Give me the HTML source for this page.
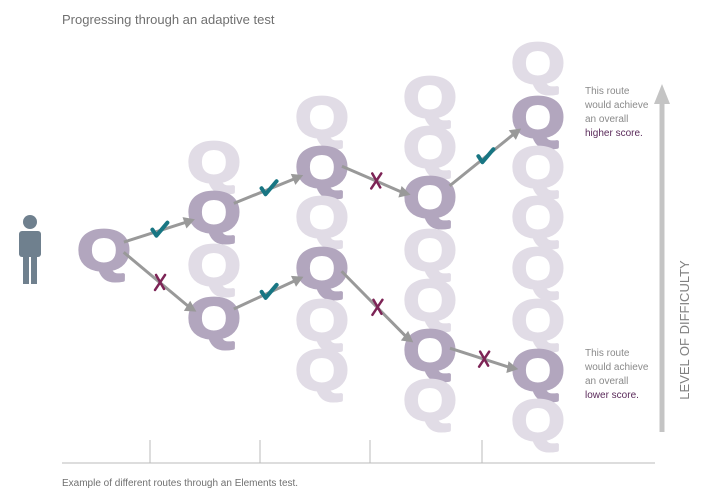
<!DOCTYPE html>
<html><head><meta charset="utf-8"><style>
body{margin:0;background:#fff;width:701px;height:499px;overflow:hidden;font-family:"Liberation Sans",sans-serif}
svg{display:block}
</style></head><body>
<svg id="c" width="701" height="499" viewBox="0 0 701 499">
<text x="62" y="24" font-size="13" fill="#707070">Progressing through an adaptive test</text>
<g id="qs"></g>
<g id="routes"></g>
<g fill="#6f808e">
<circle cx="30" cy="222" r="7"/>
<rect x="19" y="231" width="22" height="26" rx="3"/>
<rect x="23" y="250" width="6" height="34"/>
<rect x="31" y="250" width="6" height="34"/>
</g>
<line x1="62" y1="463" x2="655" y2="463" stroke="#bbb" stroke-width="1"/>
<g id="ticks" stroke="#bbb" stroke-width="1"></g>
<text x="62" y="486" font-size="10" fill="#707070">Example of different routes through an Elements test.</text>
<g>
<line x1="662" y1="432" x2="662" y2="100" stroke="#c4c4c4" stroke-width="5"/>
<polygon points="654,104 670,104 662,84" fill="#c4c4c4"/>
</g>
<text transform="translate(689,330) rotate(-90)" text-anchor="middle" font-size="13" fill="#808080">LEVEL OF DIFFICULTY</text>
<g font-size="10" fill="#8a8a8a">
<text x="585" y="94">This route</text><text x="585" y="108">would achieve</text><text x="585" y="122">an overall</text><text x="585" y="136" fill="#5a2a5a">higher score.</text>
</g>
<g font-size="10" fill="#8a8a8a">
<text x="585" y="356">This route</text><text x="585" y="370">would achieve</text><text x="585" y="384">an overall</text><text x="585" y="398" fill="#5a2a5a">lower score.</text>
</g>
</svg>
<script>
const colX=[104,214,322,430,538];
const colYs=[[250],[162,212,265,318],[117,167,217,268,320,370],[97,147,197,250,300,350,400],[63,117,167,217,268,320,370,420]];
const active=[[250],[212,318],[167,268],[197,350],[117,370]];
// route steps: [fromCol, fromY, toCol, toY, result]
const steps=[[0,250,1,212,"ok"],[0,250,1,318,"x"],[1,212,2,167,"ok"],[1,318,2,268,"ok"],[2,167,3,197,"x"],[2,268,3,350,"x"],[3,197,4,117,"ok"],[3,350,4,370,"x"]];
const tickX=[150,260,370,482];
const NS="http://www.w3.org/2000/svg";
function mk(t,a,p){const e=document.createElementNS(NS,t);for(const k in a)e.setAttribute(k,a[k]);p.appendChild(e);return e;}
const qs=document.getElementById('qs');
colYs.forEach((ys,ci)=>ys.forEach(y=>{
 const on=active[ci].includes(y);
 const c=on?'#b2a6be':'#e1dce6';
 const t=mk('text',{x:0,y:0,'text-anchor':'middle','font-size':57,'font-weight':'bold',fill:c,stroke:c,'stroke-width':3,'stroke-linejoin':'round',transform:`translate(${colX[ci]},${y+20}) scale(1.2,1)`},qs);
 t.textContent='Q';
 
 
}));
const rt=document.getElementById('routes');
steps.forEach(s=>{
 const x1=colX[s[0]],y1=s[1],x2=colX[s[2]],y2=s[3];
 const dx=x2-x1,dy=y2-y1,L=Math.hypot(dx,dy),ux=dx/L,uy=dy/L;
 const sx=x1+18+ux*2,sy=y1+(uy*12)-4, ex=x2-ux*16-4,ey=y2-uy*16+2;
 const g=mk('g',{},rt);
 
 
 mk('line',{x1:sx,y1:sy,x2:ex-ux*8,y2:ey-uy*8,stroke:'#999','stroke-width':3},g);
 const px=-uy,py=ux;
 mk('polygon',{points:`${ex},${ey} ${ex-ux*11+px*6},${ey-uy*11+py*6} ${ex-ux*11-px*6},${ey-uy*11-py*6}`,fill:'#999'},g);
 const mx=(sx+ex)/2,my=(sy+ey)/2;
 if(s[4]=="ok"){
  const m=mk('path',{d:`M${mx-7},${my-1} L${mx-3},${my+5} L${mx+8},${my-8}`,stroke:'#187683','stroke-width':4,fill:'none','stroke-linecap':'round','stroke-linejoin':'round'},g);
  
  
 } else {
  const m=mk('path',{d:`M${mx-4},${my-7} L${mx+4},${my+7} M${mx+5},${my-7} L${mx-5},${my+8}`,stroke:'#7d2456','stroke-width':2.5,fill:'none','stroke-linecap':'round'},g);
  
  
 }
});
const tk=document.getElementById('ticks');
tickX.forEach(x=>{
 const l=mk('line',{x1:x,y1:440,x2:x,y2:463},tk);
 
 
});
</script>
</body></html>
